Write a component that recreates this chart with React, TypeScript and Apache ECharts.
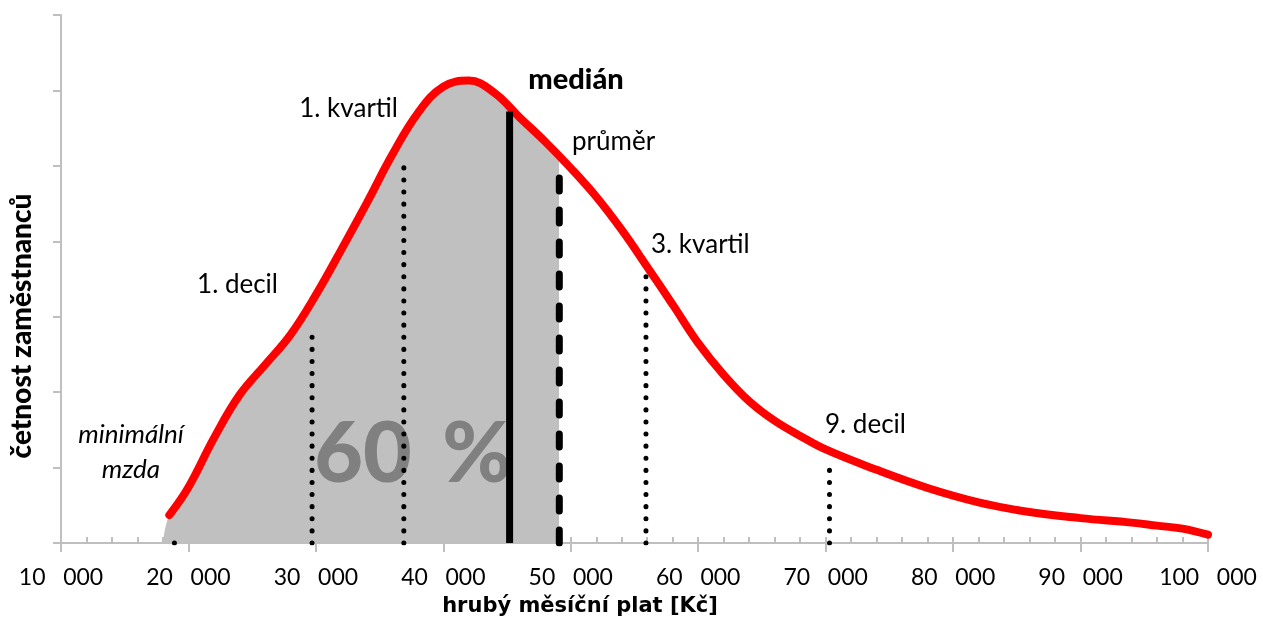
import React, { useEffect, useRef } from 'react';
import * as echarts from 'echarts';

// Curve: gross monthly salary [Kč] vs. relative frequency of employees
const salary = [18500, 20000, 22000, 24000, 26000, 28000, 30000, 32000, 34000, 36000, 38000, 40000, 42000, 44000, 46000, 48000, 50000, 52000, 54000, 56000, 58000, 60000, 62000, 64000, 66000, 68000, 70000, 74000, 78000, 82000, 86000, 90000, 94000, 96000, 98000, 100000];
const frequency = [3.7, 7.4, 13.9, 19.6, 23.6, 27.6, 32.9, 38.9, 45.1, 51.5, 57.0, 60.5, 61.3, 59.7, 56.4, 53.2, 49.7, 45.9, 41.5, 36.6, 31.6, 26.5, 22.3, 18.8, 16.2, 14.2, 12.4, 9.7, 7.3, 5.4, 4.1, 3.3, 2.7, 2.3, 1.9, 1.1];

// shaded region start (where the area meets the axis)
const shadeStart = 18000;

// Vertical markers
const markerNames = ['minimální mzda', '1. decil', '1. kvartil', 'medián', 'průměr', '3. kvartil', '9. decil'];
const markerSalary = [18900, 29700, 36900, 45200, 49100, 55900, 70300];
const markerHeight = [1.6, 28.7, 51.0, 57.2, 49.1, 36.6, 11.2];
const markerKind = ['dot', 'dot', 'dot', 'solid', 'dash', 'dot', 'dot'];

const xTicks = [10000, 20000, 30000, 40000, 50000, 60000, 70000, 80000, 90000, 100000];
const SP = '\u00a0\u00a0\u00a0';
const xTickLabels = ['10' + SP + '000', '20' + SP + '000', '30' + SP + '000', '40' + SP + '000', '50' + SP + '000', '60' + SP + '000', '70' + SP + '000', '80' + SP + '000', '90' + SP + '000', '100' + SP + '000'];

const FONT = 'Lato, "Open Sans", sans-serif';
const GRID = '#bfbfbf';

export default function App() {
  const ref = useRef<HTMLDivElement>(null);
  useEffect(() => {
    if (!ref.current) return;
    const chart = echarts.init(ref.current, undefined, { renderer: 'svg' });
    const curve = salary.map((s, i) => [s, frequency[i]]);
    const areaData = [[shadeStart, 0], ...curve];
    const meanSalary = markerSalary[markerNames.indexOf('průměr')];

    const markerSeries = markerSalary.map((s, i) => {
      const kind = markerKind[i];
      const lineStyle: any = { color: '#000', cap: 'round' };
      if (kind === 'dot') { lineStyle.width = 5; lineStyle.type = [0.1, 12]; }
      else if (kind === 'dash') { lineStyle.width = 7; lineStyle.type = [13, 19]; }
      else { lineStyle.width = 7; lineStyle.type = 'solid'; lineStyle.cap = 'butt'; }
      return {
        type: 'line', name: markerNames[i], data: [[s, 0], [s, markerHeight[i]]],
        symbol: 'none', lineStyle, z: 5, silent: true, xAxisIndex: 0,
      };
    });

    const label = (text: string, x: number, y: number, align: string, extra: any = {}) => ({
      type: 'text', x, y, z: 10,
      style: { text, fill: '#000', fontFamily: FONT, fontSize: 26, align, verticalAlign: 'middle', ...extra },
    });

    chart.setOption({
      animation: false,
      grid: { left: 61, right: 55, top: 15, bottom: 76 },
      xAxis: [
        {
          type: 'value', min: 10000, max: 100000, interval: 10000, position: 'bottom',
          axisLine: { show: true, lineStyle: { color: GRID, width: 2 } },
          axisTick: { show: true, length: 9, lineStyle: { color: GRID, width: 2 } },
          axisLabel: {
            color: '#000', fontFamily: FONT, fontSize: 23, lineHeight: 22, margin: 22,
            formatter: (v: number) => xTickLabels[xTicks.indexOf(v)] ?? '',
          },
          splitLine: { show: false },
        },
        {
          type: 'value', min: 10000, max: 100000, interval: 2000, position: 'bottom',
          axisLine: { show: false },
          axisTick: { show: true, inside: true, length: 6, lineStyle: { color: GRID, width: 2 } },
          axisLabel: { show: false }, splitLine: { show: false },
        },
      ],
      yAxis: {
        type: 'value', min: 0, max: 70, interval: 10,
        axisLine: { show: true, lineStyle: { color: GRID, width: 2 } },
        axisTick: { show: true, length: 8, lineStyle: { color: GRID, width: 2 } },
        axisLabel: { show: false }, splitLine: { show: false },
      },
      visualMap: {
        show: false, type: 'piecewise', seriesIndex: 0, dimension: 0,
        pieces: [
          { gte: 0, lt: meanSalary, color: '#c0c0c0' },
          { gte: meanSalary, lte: 1000000, color: 'rgba(192,192,192,0)' },
        ],
      },
      series: [
        {
          type: 'line', data: areaData, smooth: 0.4, symbol: 'none', z: 1, silent: true,
          lineStyle: { width: 0 }, areaStyle: { opacity: 1 },
        },
        {
          type: 'line', data: curve, smooth: 0.4, symbol: 'none', z: 4, silent: true,
          lineStyle: { color: '#ff0000', width: 8, cap: 'round' },
        },
        ...markerSeries,
      ],
      graphic: [
        { type: 'text', x: 413, y: 449, z: 3, style: { text: '60\u00a0\u2009%', fill: '#808080', fontFamily: FONT, fontSize: 84, fontWeight: 900, align: 'center', verticalAlign: 'middle' } },
        label('minimální\nmzda', 131, 450, 'center', { fontStyle: 'italic', lineHeight: 35 }),
        label('1. decil', 278, 283, 'right'),
        label('1. kvartil', 398, 107, 'right'),
        label('medián', 576, 77, 'center', { fontWeight: 900, fontSize: 29 }),
        label('průměr', 572, 140, 'left'),
        label('3. kvartil', 651, 243, 'left'),
        label('9. decil', 825, 423, 'left'),
        {
          type: 'text', x: 580, y: 605, z: 10,
          style: { text: 'hrubý měsíční plat [Kč]', fill: '#000', fontFamily: '"DejaVu Sans", sans-serif', fontSize: 21, fontWeight: 'bold', align: 'center', verticalAlign: 'middle' },
        },
        {
          type: 'text', x: 20, y: 326, rotation: Math.PI / 2, z: 10,
          style: { text: 'četnost zaměstnanců', fill: '#000', fontFamily: FONT, fontSize: 28, fontWeight: 900, align: 'center', verticalAlign: 'middle' },
        },
      ],
    });
    return () => chart.dispose();
  }, []);
  return <div ref={ref} style={{ position: 'fixed', left: 0, top: 0, width: 1263, height: 619 }} />;
}
